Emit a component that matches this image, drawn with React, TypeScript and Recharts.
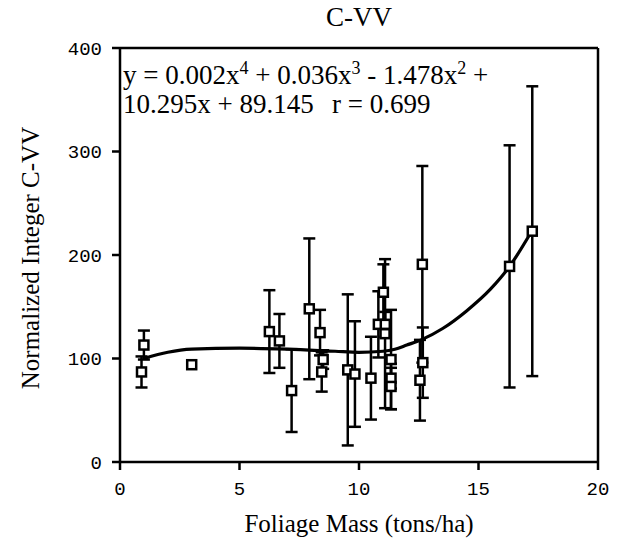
import * as React from 'react';
import { ComposedChart, Line, Scatter, ErrorBar, XAxis, YAxis, ReferenceLine } from 'recharts';

// foliage mass (tons/ha) and normalized C-VV
const massX = [0.9, 1.0, 3.0, 6.25, 6.67, 7.18, 7.92, 8.37, 8.5, 8.44, 9.53, 9.83, 10.5, 10.81, 11.02, 11.09, 11.1, 11.34, 11.34, 11.34, 12.65, 12.67, 12.55, 16.3, 17.25];
const cvv = [87, 113, 94, 126, 117, 69, 148, 125, 99, 87, 89, 85, 81, 133, 164, 124, 133, 99, 81, 73, 191, 96, 79, 189, 223];
const cvvErr = [15, 14, 0, 40, 26, 40, 68, 22, 9, 19, 73, 51, 40, 32, 27, 72, 12, 48, 10, 22, 95, 34, 39, 117, 140];

// fitted curve as drawn
const fitX = [1.0, 2.0, 3.0, 5.0, 7.0, 9.0, 10.0, 11.0, 11.5, 12.0, 12.6, 13.5, 14.5, 15.5, 16.3, 17.2];
const fitY = [100, 106, 109, 110, 109, 107, 106, 107, 109, 113, 118, 129, 146, 167, 189, 222];

const xTicks = [0, 5, 10, 15, 20];
const yTicks = [0, 100, 200, 300, 400];

const points = massX.map((x, i) => ({ x, y: cvv[i], err: cvvErr[i] }));
const curve = fitX.map((x, i) => ({ x, y: fitY[i] }));

const serif = '"Liberation Serif", "Times New Roman", serif';
const mono = '"Liberation Mono", "Courier New", monospace';
const tickStyle = { fontFamily: mono, fontSize: 19, fill: '#000' };

const Square = (props: any) => {
    const { cx, cy } = props;
    if (cx == null || cy == null) return null;
    return <rect x={cx - 4.5} y={cy - 4.5} width={9} height={9} fill="#fff" stroke="#000" strokeWidth={2.5}/>;
};

export default function App() {
    // cancel the body margin so the svg sits at the page corner
    return (
        <div style={{margin: -8}}>
            <ComposedChart
                width={621}
                height={554}
                margin={{top: 48, right: 23, left: 60, bottom: 52}}
            >
                <XAxis
                    type="number"
                    dataKey="x"
                    domain={[0, 20]}
                    ticks={xTicks}
                    tick={tickStyle}
                    tickSize={8}
                    tickMargin={12}
                    height={40}
                    axisLine={{stroke: '#000', strokeWidth: 2.5}}
                    tickLine={{stroke: '#000', strokeWidth: 2.5}}
                />
                <YAxis
                    type="number"
                    dataKey="y"
                    domain={[0, 400]}
                    ticks={yTicks}
                    tick={tickStyle}
                    tickSize={8}
                    tickMargin={10}
                    width={60}
                    axisLine={{stroke: '#000', strokeWidth: 2.5}}
                    tickLine={{stroke: '#000', strokeWidth: 2.5}}
                />
                <ReferenceLine y={400} stroke="#000" strokeWidth={2.5}/>
                <ReferenceLine x={20} stroke="#000" strokeWidth={2.5}/>
                <Line
                    data={curve}
                    dataKey="y"
                    type="monotone"
                    stroke="#000"
                    strokeWidth={3.2}
                    dot={false}
                    isAnimationActive={false}
                />
                <Scatter data={points} dataKey="y" shape={Square} isAnimationActive={false}>
                    <ErrorBar dataKey="err" direction="y" width={6} stroke="#000" strokeWidth={2.5}/>
                </Scatter>
                <text x={359} y={26} textAnchor="middle" fontFamily={serif} fontSize={27} fill="#000">C-VV</text>
                <text x={359} y={532} textAnchor="middle" fontFamily={serif} fontSize={25} fill="#000">Foliage Mass (tons/ha)</text>
                <text
                    x={33}
                    y={258}
                    textAnchor="middle"
                    fontFamily={serif}
                    fontSize={25}
                    fill="#000"
                    transform="rotate(-90 33 258)"
                    dominantBaseline="middle"
                >
                    Normalized Integer C-VV
                </text>
                <text x={123} y={84} fontFamily={serif} fontSize={27} fill="#000">
                    y = 0.002x<tspan dy={-10} fontSize={18}>4</tspan>
                    <tspan dy={10}> + 0.036x</tspan><tspan dy={-10} fontSize={18}>3</tspan>
                    <tspan dy={10}> - 1.478x</tspan><tspan dy={-10} fontSize={18}>2</tspan>
                    <tspan dy={10}> +</tspan>
                </text>
                <text y={113} fontFamily={serif} fontSize={27} fill="#000">
                    <tspan x={123}>10.295x + 89.145</tspan>
                    <tspan x={332}>r = 0.699</tspan>
                </text>
            </ComposedChart>
        </div>
    );
}
